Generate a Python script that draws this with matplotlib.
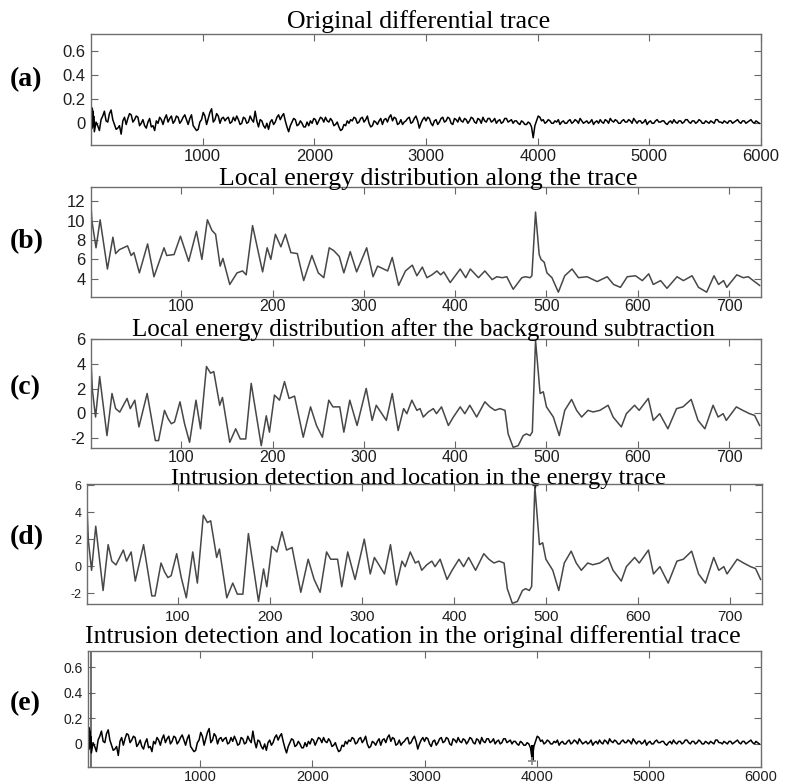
import numpy as np
import matplotlib
matplotlib.use("Agg")
import matplotlib.pyplot as plt

# ---------------------------------------------------------------------------
# Data
# ---------------------------------------------------------------------------

# (a) / (e): original differential trace.
# start burst, then samples every 30 points (TRACE_Y) with the in-between
# jitter at +15 (TRACE_MID_Y)
TRACE_BURST_X = [0, 3, 6, 9, 12, 15, 18, 21, 24, 27]
TRACE_BURST_Y = [0.15, -0.05, 0.13, -0.04, 0.12, -0.03, 0.10, -0.02, 0.06, 0.0]
TRACE_STEP = 30
TRACE_Y = [
    -0.07, -0.02, 0.03, 0.10, 0.01, 0.11, -0.01, -0.04, -0.09,
    0.05, 0.04, 0.07, 0.03, 0.05, 0.00, -0.02, 0.01, -0.03, -0.06,
    0.00, 0.03, 0.04, 0.01, 0.06, 0.02, 0.05, 0.02, 0.07, -0.01,
    0.07, -0.04, -0.05, 0.03, 0.06, 0.04, 0.12, 0.03, 0.06, 0.04,
    0.02, 0.05, 0.01, 0.02, 0.03, 0.00, 0.04, 0.01, 0.03, 0.10,
    -0.03, 0.02, -0.04, -0.05, 0.03, 0.01, 0.07, 0.06, 0.02, -0.07,
    0.01, 0.03, -0.01, 0.00, -0.03, -0.02, 0.00, 0.03, 0.02, 0.04,
    0.05, 0.01, 0.02, -0.01, -0.03, -0.05, -0.02, 0.00, 0.02, 0.04,
    0.01, 0.05, 0.03, 0.00, -0.02, 0.01, 0.02, -0.01, 0.04, 0.05,
    0.02, 0.04, 0.00, -0.01, 0.02, 0.05, 0.01, 0.06, -0.04, 0.03,
    0.02, 0.04, -0.02, 0.03, 0.01, 0.05, 0.02, 0.04, -0.01, 0.03,
    0.05, 0.01, 0.03, 0.02, 0.04, 0.00, 0.03, 0.05, 0.01, 0.04,
    0.02, 0.00, 0.03, 0.01, 0.04, 0.02, 0.00, 0.02, -0.01, 0.01,
    -0.01, 0.00, -0.12, 0.02, 0.05, 0.03, 0.01, 0.02, 0.00, 0.01,
    -0.01, 0.02, 0.00, 0.03, 0.01, 0.02, 0.04, 0.00, 0.02, 0.01,
    -0.01, 0.02, 0.03, 0.00, 0.02, 0.04, 0.01, 0.02, 0.00, 0.03,
    0.01, 0.02, 0.04, 0.00, 0.02, 0.01, -0.01, 0.02, 0.00, 0.03,
    0.01, 0.02, -0.01, 0.02, 0.03, 0.00, 0.02, 0.01, 0.03, 0.00,
    0.02, 0.01, 0.02, 0.00, 0.01, 0.02, 0.00, 0.03, 0.01, 0.02,
    0.00, 0.02, 0.01, 0.03, 0.00, 0.02, 0.01, 0.03, 0.00, 0.01,
]
TRACE_MID_Y = [
    0.01, -0.06, 0.06, 0.02, 0.08, 0.03, -0.05, -0.02, 0.02,
    -0.01, 0.08, 0.01, 0.06, -0.02, 0.03, -0.04, 0.04, -0.02, 0.02,
    0.05, -0.01, 0.07, 0.04, 0.00, 0.06, 0.00, 0.05, 0.03, 0.04,
    -0.02, -0.06, 0.01, 0.09, -0.01, 0.09, 0.01, 0.08, 0.00, 0.05,
    0.04, 0.00, 0.05, 0.06, -0.01, 0.05, 0.00, 0.06, 0.01, 0.02,
    0.03, -0.02, 0.00, 0.01, -0.01, 0.05, 0.03, 0.08, -0.03, -0.02,
    0.04, -0.02, 0.02, -0.03, 0.01, 0.02, 0.04, -0.01, 0.05, 0.01,
    0.02, 0.04, -0.02, 0.01, -0.06, -0.01, 0.02, 0.03, 0.05, 0.00,
    0.04, 0.01, 0.06, -0.03, 0.02, -0.01, 0.04, 0.03, 0.01, 0.07,
    0.05, -0.01, 0.03, 0.01, 0.04, 0.00, 0.04, 0.02, 0.00, 0.05,
    0.05, 0.00, 0.02, -0.01, 0.04, 0.01, 0.05, 0.00, 0.04, 0.01,
    0.02, 0.04, 0.00, 0.05, 0.01, 0.04, 0.00, 0.02, 0.04, 0.01,
    0.04, 0.02, 0.00, 0.04, 0.01, 0.03, 0.02, 0.00, 0.02, -0.01,
    0.01, -0.03, -0.02, 0.06, 0.02, 0.00, 0.03, 0.00, 0.02, 0.03,
    0.01, 0.00, 0.02, 0.00, 0.03, 0.00, 0.02, 0.01, 0.00, 0.03,
    0.01, 0.00, 0.01, 0.03, 0.00, 0.02, 0.03, 0.00, 0.02, 0.01,
    0.03, 0.00, 0.02, 0.02, 0.00, 0.03, 0.01, 0.00, 0.02, 0.01,
    0.02, 0.00, 0.01, 0.00, 0.01, 0.02, 0.00, 0.03, 0.01, 0.02,
    0.00, 0.03, 0.00, 0.02, 0.00, 0.01, 0.03, 0.01, 0.00, 0.01,
    0.02, 0.00, 0.02, 0.01, 0.02, 0.00, 0.02, 0.01, 0.02, 0.00,
]
DETECT_TRACE_X = 3960
DETECT_TRACE_Y = [-0.02, -0.12]
DETECT_TRACE_MARK = -0.135

# (b): local energy along the trace
ENERGY_X = [
    1, 2, 6.5, 11, 19, 25, 28, 32, 41, 45,
    48, 54, 63, 70, 81, 84, 92, 99, 108, 116.5,
    122.5, 128.5, 133.5, 137.5, 142.5, 145.5, 153, 161, 167, 171,
    178, 189, 194, 198, 203, 209, 214, 220, 227, 234,
    243, 250, 256, 262, 267, 273, 278, 285, 292, 303,
    310, 315, 326, 331, 338, 345.5, 353, 358, 364, 369,
    374.5, 380, 384, 387.5, 394.5, 405.5, 411.5, 416.5, 425.5, 432.5,
    440.5, 445.5, 451.5, 456.5, 463.5, 473, 477, 482, 484, 488,
    492, 494, 497.5, 500.5, 506, 513, 520, 528, 535, 544.5,
    555.5, 566.5, 573.5, 581, 588.5, 597.5, 605, 612, 617, 625,
    632, 643, 650, 659.5, 666.5, 675.5, 683.5, 688.5, 694, 697.5,
    708.5, 715.5, 721, 726.5, 733.5,
]
ENERGY_Y = [
    11.6, 10.0, 7.2, 10.1, 5.0, 8.3, 6.6, 7.0, 7.4, 6.4,
    6.7, 4.6, 7.6, 4.2, 7.2, 6.4, 6.5, 8.4, 5.8, 8.9,
    6.0, 10.1, 9.0, 8.6, 5.3, 6.1, 3.4, 4.6, 4.8, 4.4,
    9.5, 4.7, 7.2, 6.0, 8.6, 7.3, 8.6, 6.7, 6.6, 3.8,
    6.4, 4.6, 4.1, 7.2, 6.9, 6.3, 4.6, 6.8, 4.7, 7.2,
    4.2, 5.3, 4.8, 6.2, 3.3, 4.8, 5.4, 4.3, 5.2, 4.1,
    4.4, 4.8, 4.4, 4.7, 3.6, 5.0, 4.1, 5.0, 4.1, 4.8,
    3.9, 4.2, 4.1, 4.2, 2.9, 4.1, 4.2, 4.1, 4.3, 10.9,
    6.5, 6.0, 5.7, 4.6, 4.1, 2.6, 4.3, 5.0, 4.1, 4.2,
    3.7, 4.2, 3.4, 3.1, 4.2, 4.3, 3.8, 4.5, 3.4, 3.8,
    3.0, 4.2, 3.8, 4.3, 3.1, 2.6, 4.3, 3.4, 3.8, 3.1,
    4.4, 4.1, 4.2, 3.8, 3.3,
]

# (c) / (d): energy after background subtraction
SUB_X = [
    1, 2.5, 6, 10.5, 18.5, 24, 28, 32.5, 40.5, 44,
    49, 53.5, 62.5, 71.5, 75, 81.5, 85.5, 89, 92.5, 98.5,
    103.5, 109, 116, 121, 127.5, 132, 135.5, 142, 145, 153,
    159.5, 164.5, 170.5, 176.5, 187.5, 193, 196.5, 202, 207.5, 213,
    218, 224, 233.5, 241.5, 248, 254.5, 261.5, 266, 273.5, 278,
    284.5, 292.5, 302.5, 309, 313.5, 324.5, 331, 337.5, 343.5, 347,
    352.5, 358, 361.5, 365, 370.5, 376, 379.5, 385, 392.5, 398,
    405.5, 410.5, 416, 423.5, 432.5, 438, 443.5, 449, 454.5, 458,
    463.5, 469, 474.5, 478, 482, 484.5, 488, 493, 496.5, 500,
    507.5, 514, 520, 527.5, 533, 538.5, 545.5, 551, 558.5, 567.5,
    573, 582, 587.5, 596.5, 601.5, 611.5, 617, 624, 633, 642.5,
    649.5, 658.5, 666, 673.5, 682.5, 688, 693.5, 697, 708, 715,
    722.5, 728, 733.5,
]
SUB_Y = [
    4.33, 1.88, -0.30, 2.97, -1.80, 1.60, 0.38, 0.10, 1.20, 0.38,
    1.06, -1.10, 1.60, -2.20, -2.20, 0.24, -0.44, -0.84, -0.70, 0.93,
    -0.84, -2.34, 1.06, -1.25, 3.78, 3.24, 3.37, 0.65, 1.28, -2.34,
    -1.25, -2.07, -2.07, 2.42, -2.61, -0.20, -1.52, 1.47, 1.06, 2.56,
    1.20, 1.39, -1.93, 0.52, -0.98, -1.93, 1.06, 0.52, 0.52, -1.52,
    1.06, -0.98, 2.01, -0.57, 0.65, -0.57, 1.60, -1.39, 0.38, -0.03,
    1.06, 0.24, 0.38, -0.30, 0.11, 0.38, -0.03, 0.52, -0.98, -0.30,
    0.52, -0.03, 0.65, -0.30, 0.93, 0.52, 0.24, 0.38, 0.24, -1.66,
    -2.75, -2.61, -1.80, -1.66, -1.80, -1.50, 5.90, 1.60, 1.74, 0.52,
    -0.30, -1.80, 0.24, 1.12, 0.24, -0.30, 0.24, 0.11, 0.24, 0.65,
    -0.30, -1.10, -0.03, 0.65, 0.24, 1.20, -0.57, -0.03, -1.25, 0.38,
    0.52, 1.12, -0.57, -1.25, 0.65, -0.30, -0.03, -0.57, 0.52, 0.24,
    -0.03, -0.17, -0.98,
]
DETECT_ENERGY = (488, 6.0)

TITLES = [
    "Original differential trace",
    "Local energy distribution along the trace",
    "Local energy distribution after the background subtraction",
    "Intrusion detection and location in the energy trace",
    "Intrusion detection and location in the original differential trace",
]
PANEL_LABELS = ["(a)", "(b)", "(c)", "(d)", "(e)"]

TRACE_XTICKS = [1000, 2000, 3000, 4000, 5000, 6000]
TRACE_YTICKS = [0, 0.2, 0.4, 0.6]
TRACE_YLABELS = ["0", "0.2", "0.4", "0.6"]
ENERGY_XTICKS = [100, 200, 300, 400, 500, 600, 700]
ENERGY_YTICKS = [4, 6, 8, 10, 12]
SUB_YTICKS = [-2, 0, 2, 4, 6]

SERIF = "Liberation Serif"
SANS = "Liberation Sans"
ENERGY_COLOR = "#474747"

# ---------------------------------------------------------------------------
# Figure
# ---------------------------------------------------------------------------

W, H = 790, 784
fig = plt.figure(figsize=(W / 100, H / 100), dpi=100)
fig.patch.set_facecolor("white")


def px_axes(left, top, right, bottom):
    return fig.add_axes([left / W, 1 - bottom / H, (right - left) / W,
                         (bottom - top) / H])


def style(ax, xticks, yticks, ylabels, xsize, ysize, xpad=4):
    ax.set_xticks(xticks)
    ax.set_yticks(yticks)
    ax.set_yticklabels(ylabels if ylabels else [str(t) for t in yticks])
    ax.tick_params(direction="in", top=True, right=True, length=5,
                   width=0.8, color="#666666", labelcolor="#1e1e1e")
    ax.tick_params(axis="x", labelsize=xsize, pad=xpad)
    ax.tick_params(axis="y", labelsize=ysize, pad=4)
    for lab in ax.get_xticklabels() + ax.get_yticklabels():
        lab.set_fontfamily(SANS)
    for sp in ax.spines.values():
        sp.set_color("#6e6e6e")
        sp.set_linewidth(1.0)


trace_main_x = TRACE_STEP * np.arange(1, len(TRACE_Y) + 1)
fine_x = np.empty(2 * len(TRACE_Y))
fine_y = np.empty(2 * len(TRACE_Y))
fine_x[0::2] = trace_main_x
fine_x[1::2] = trace_main_x + TRACE_STEP // 2
fine_y[0::2] = TRACE_Y
fine_y[1::2] = TRACE_MID_Y
trace_x = np.concatenate([TRACE_BURST_X, fine_x])
trace_y = np.concatenate([TRACE_BURST_Y, fine_y])

# (a)
ax_a = px_axes(91, 34, 761, 145)
ax_a.plot(trace_x, trace_y, color="black", lw=1.1)
ax_a.set_xlim(0, 6000)
ax_a.set_ylim(-0.18, 0.74)
style(ax_a, TRACE_XTICKS, TRACE_YTICKS, TRACE_YLABELS, 12, 12, xpad=3)

# (b)
ax_b = px_axes(91, 187, 761, 297)
ax_b.plot(ENERGY_X, ENERGY_Y, color=ENERGY_COLOR, lw=1.1)
ax_b.set_xlim(1, 735)
ax_b.set_ylim(2.1, 13.5)
style(ax_b, ENERGY_XTICKS, ENERGY_YTICKS, None, 11.5, 12, xpad=1.5)

# (c)
ax_c = px_axes(91, 339, 761, 448)
ax_c.plot(SUB_X, SUB_Y, color=ENERGY_COLOR, lw=1.1)
ax_c.set_xlim(1, 735)
ax_c.set_ylim(-2.8, 6.0)
style(ax_c, ENERGY_XTICKS, SUB_YTICKS, None, 11.5, 12, xpad=1.5)

# (d)
ax_d = px_axes(87, 484, 762, 604)
ax_d.plot(SUB_X, SUB_Y, color=ENERGY_COLOR, lw=1.1)
ax_d.plot(*DETECT_ENERGY, marker="+", color="#222222", ms=5, mew=1.0)
ax_d.set_xlim(1, 735)
ax_d.set_ylim(-2.8, 6.1)
style(ax_d, ENERGY_XTICKS, SUB_YTICKS, None, 11, 9)

# (e)
ax_e = px_axes(88, 651, 761, 767)
ax_e.axvline(25, color="#555555", lw=1.2)
ax_e.plot(trace_x, trace_y, color="black", lw=1.1)
ax_e.plot([DETECT_TRACE_X, DETECT_TRACE_X], DETECT_TRACE_Y,
          color="black", lw=2.2)
ax_e.plot(DETECT_TRACE_X, DETECT_TRACE_MARK, marker="+", color="#888888",
          ms=6, mew=1.2)
ax_e.set_xlim(0, 6000)
ax_e.set_ylim(-0.18, 0.725)
style(ax_e, TRACE_XTICKS, TRACE_YTICKS, TRACE_YLABELS, 10.5, 10, xpad=2)

# titles and panel labels (pixel positions from the reference)
title_pos = [(419, 28), (428, 185), (423, 336), (418, 484), (413, 643)]
title_size = [18.5, 18.5, 18, 17.5, 18.5]
for text, (x, y), size in zip(TITLES, title_pos, title_size):
    fig.text(x / W, 1 - y / H, text, ha="center", va="baseline",
             fontfamily=SERIF, fontsize=size)

label_pos = [(10, 80), (10, 242), (10, 388), (10, 538), (10, 704)]
for text, (x, y) in zip(PANEL_LABELS, label_pos):
    fig.text(x / W, 1 - y / H, text, ha="left", va="center",
             fontfamily=SERIF, fontsize=20, fontweight="bold")

fig.savefig("out.png", dpi=100)
